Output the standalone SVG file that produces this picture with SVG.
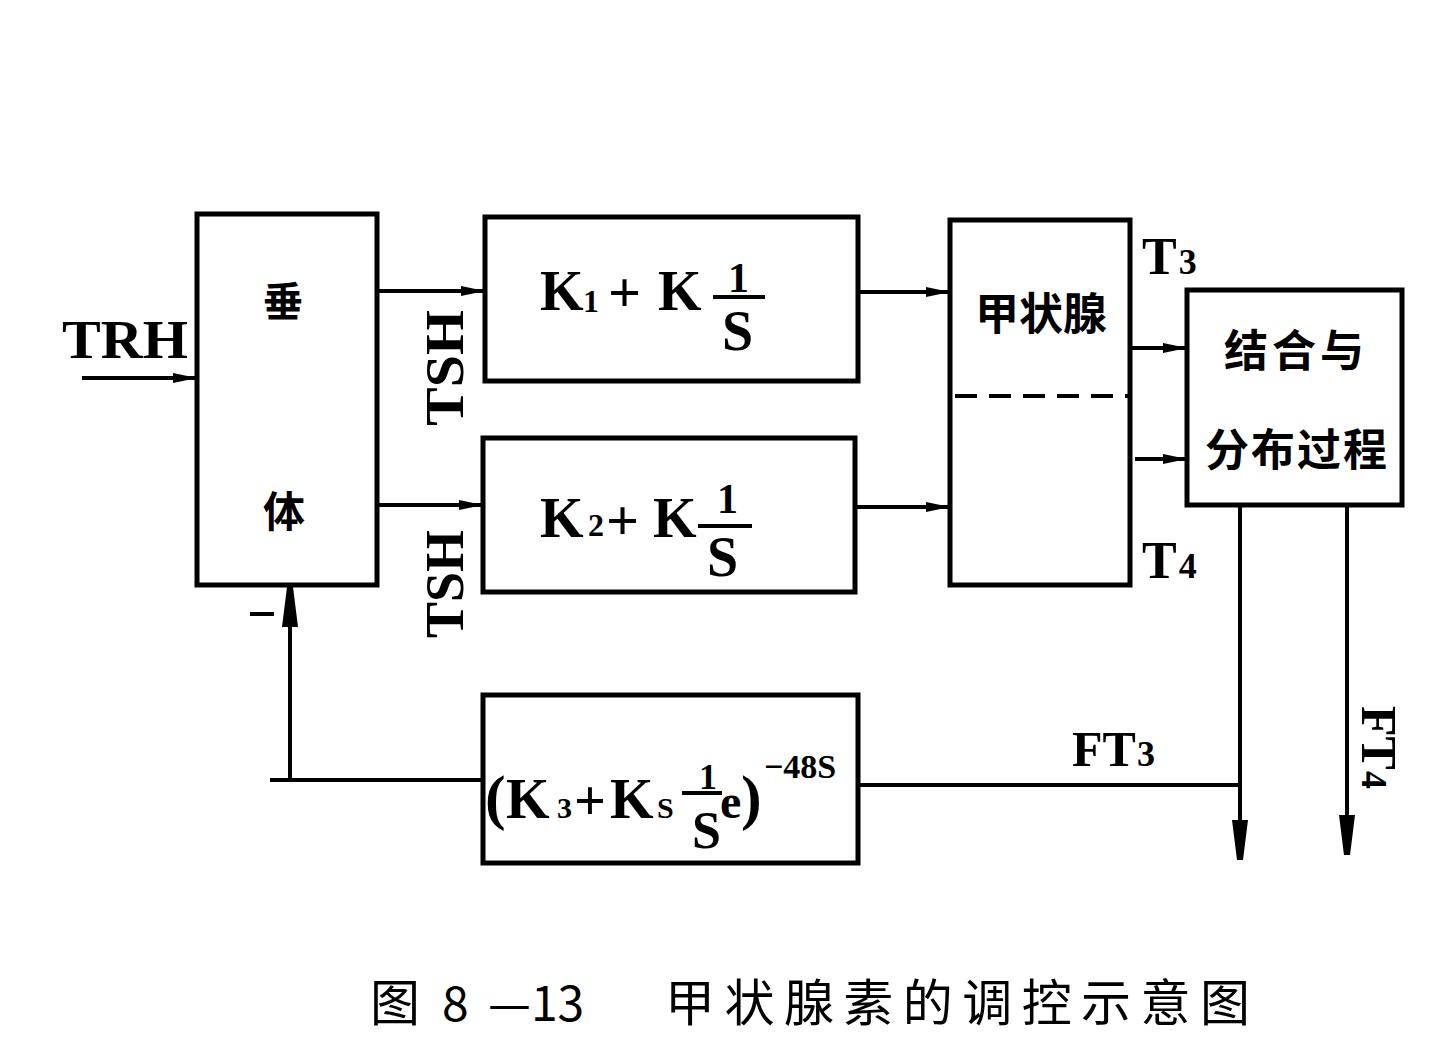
<svg xmlns="http://www.w3.org/2000/svg" width="1453" height="1037" viewBox="0 0 1453 1037">
<defs>
<style>
.box{fill:none;stroke:#000;stroke-width:5}
.ln{fill:none;stroke:#000;stroke-width:4}
.dash{fill:none;stroke:#000;stroke-width:4;stroke-dasharray:22 12}
.lat{font-family:'Liberation Serif','Noto Sans CJK SC',serif;font-weight:bold;fill:#000}
.cjk{font-family:'Noto Sans CJK SC','Noto Sans CJK JP',sans-serif;font-weight:bold;fill:#000}
.cap{font-family:'Noto Sans CJK SC','Noto Sans CJK JP',sans-serif;fill:#000}
</style>
<marker id="arr" viewBox="0 0 24 12" markerWidth="24" markerHeight="12" refX="24" refY="6" orient="auto" markerUnits="userSpaceOnUse">
<path d="M0,1 L24,6 L0,11 Z" fill="#000"/>
</marker>
<marker id="arrL" viewBox="0 0 40 16" markerWidth="40" markerHeight="16" refX="40" refY="8" orient="auto" markerUnits="userSpaceOnUse">
<path d="M0,0 L40,5 L40,11 L0,16 Z" fill="#000"/>
</marker>
</defs>
<rect width="1453" height="1037" fill="#fff"/>

<g id="connectors">
<line class="ln" x1="82" y1="378" x2="197" y2="378" marker-end="url(#arr)"/>
<line class="ln" x1="377" y1="291" x2="485" y2="291" marker-end="url(#arr)"/>
<line class="ln" x1="377" y1="505" x2="483" y2="505" marker-end="url(#arr)"/>
<line class="ln" x1="858" y1="292" x2="950" y2="292" marker-end="url(#arr)"/>
<line class="ln" x1="855" y1="507" x2="950" y2="507" marker-end="url(#arr)"/>
<line class="ln" x1="1130" y1="348" x2="1187" y2="348" marker-end="url(#arr)"/>
<line class="ln" x1="1135" y1="459" x2="1187" y2="459" marker-end="url(#arr)"/>
<line class="ln" x1="1240" y1="505" x2="1240" y2="860" marker-end="url(#arrL)"/>
<line class="ln" x1="1347" y1="505" x2="1347" y2="855" marker-end="url(#arrL)"/>
<line class="ln" x1="858" y1="785" x2="1240" y2="785"/>
<polyline class="ln" points="483,780 270,780"/>
<line class="ln" x1="290" y1="780" x2="290" y2="587" marker-end="url(#arrL)"/>
<line class="ln" x1="250" y1="614" x2="274" y2="614"/>
</g>

<g id="pituitary">
<rect class="box" x="197" y="214" width="180" height="371"/>
<text class="cjk" x="263" y="316" font-size="40">垂</text>
<text class="cjk" x="263" y="527" font-size="42">体</text>
</g>

<g id="labels-left">
<text class="lat" x="62" y="358" font-size="54" textLength="126" lengthAdjust="spacingAndGlyphs">TRH</text>
<text class="lat" font-size="54" transform="translate(463,426) rotate(-90)" textLength="116" lengthAdjust="spacingAndGlyphs">TSH</text>
<text class="lat" font-size="54" transform="translate(463,638) rotate(-90)" textLength="108" lengthAdjust="spacingAndGlyphs">TSH</text>
</g>

<g id="k1">
<rect class="box" x="485" y="217" width="373" height="164"/>
<text class="lat" x="540" y="310" font-size="56">K</text>
<text class="lat" x="583" y="312" font-size="32">1</text>
<text class="lat" x="608" y="312" font-size="58">+</text>
<text class="lat" x="658" y="310" font-size="56">K</text>
<text class="lat" x="728" y="292" font-size="42">1</text>
<line class="ln" x1="713" y1="297" x2="765" y2="297"/>
<text class="lat" x="722" y="350" font-size="56">S</text>
</g>

<g id="k2">
<rect class="box" x="483" y="438" width="372" height="154"/>
<text class="lat" x="540" y="537" font-size="56">K</text>
<text class="lat" x="588" y="536" font-size="32">2</text>
<text class="lat" x="606" y="540" font-size="58">+</text>
<text class="lat" x="653" y="537" font-size="56">K</text>
<text class="lat" x="717" y="513" font-size="42">1</text>
<line class="ln" x1="698" y1="526" x2="752" y2="526"/>
<text class="lat" x="707" y="576" font-size="56">S</text>
</g>

<g id="thyroid">
<rect class="box" x="950" y="220" width="180" height="365"/>
<line class="dash" x1="955" y1="396" x2="1128" y2="396"/>
<text class="cjk" x="975" y="330" font-size="44">甲状腺</text>
<text class="lat" x="1142" y="274" font-size="52">T<tspan font-size="36" dx="2">3</tspan></text>
<text class="lat" x="1142" y="578" font-size="52">T<tspan font-size="36" dx="2">4</tspan></text>
</g>

<g id="binding">
<rect class="box" x="1187" y="290" width="215" height="215"/>
<text class="cjk" x="1224" y="367" font-size="44" letter-spacing="4">结合与</text>
<text class="cjk" x="1205" y="466" font-size="44" letter-spacing="2">分布过程</text>
</g>

<g id="feedback">
<rect class="box" x="483" y="695" width="375" height="168"/>
<text class="lat" x="485" y="818" font-size="62">(</text>
<text class="lat" x="506" y="818" font-size="56">K</text>
<text class="lat" x="557" y="818" font-size="30">3</text>
<text class="lat" x="574" y="820" font-size="56">+</text>
<text class="lat" x="610" y="818" font-size="56">K</text>
<text class="lat" x="657" y="818" font-size="30">S</text>
<text class="lat" x="699" y="789" font-size="36">1</text>
<line class="ln" x1="682" y1="793" x2="722" y2="793"/>
<text class="lat" x="692" y="848" font-size="52">S</text>
<text class="lat" x="720" y="818" font-size="48">e</text>
<text class="lat" x="741" y="818" font-size="62">)</text>
<text class="lat" x="764" y="778" font-size="34">−48S</text>
</g>

<g id="outputs">
<text class="lat" x="1072" y="766" font-size="50">FT<tspan font-size="36" dx="1">3</tspan></text>
<text class="lat" font-size="50" transform="translate(1362,706) rotate(90)">FT<tspan font-size="36" dx="1">4</tspan></text>
</g>

<g id="caption">
<text class="cap" x="370" y="1021" font-size="50">图</text>
<text class="cap" x="442" y="1021" font-size="48">8</text>
<text class="cap" x="488" y="1021" font-size="48">—13</text>
<text class="cap" x="665" y="1021" font-size="50" textLength="585" lengthAdjust="spacing">甲状腺素的调控示意图</text>
</g>
</svg>
